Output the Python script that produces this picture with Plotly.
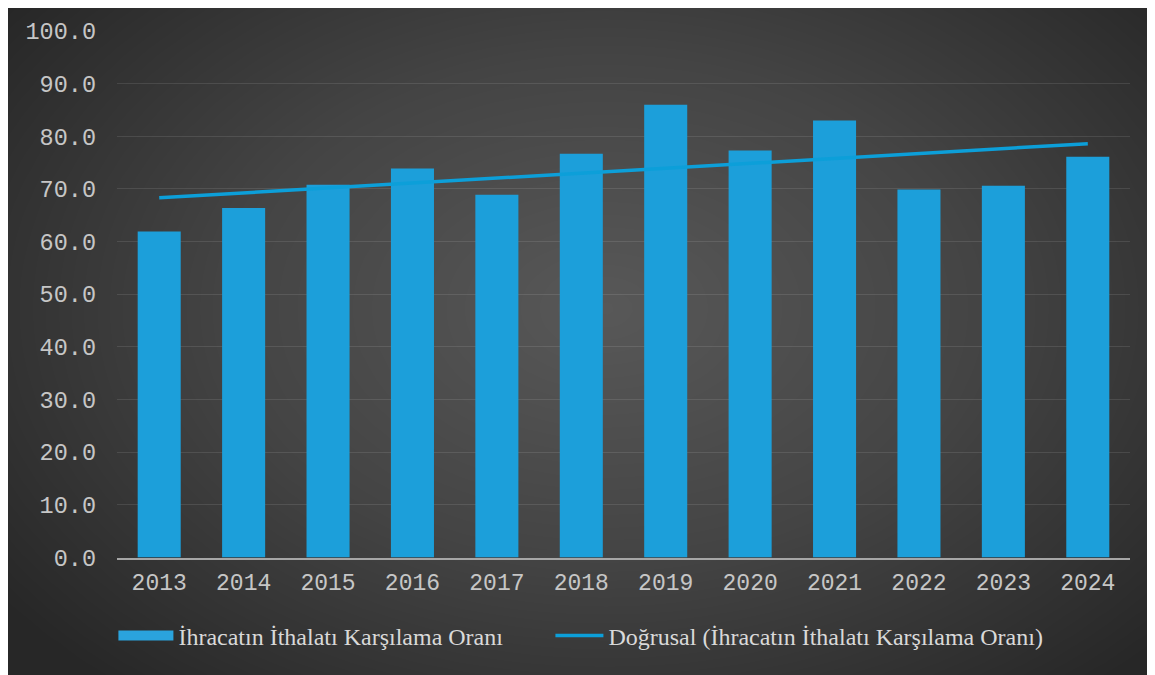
import numpy as np
import plotly.graph_objects as go

years = ["2013", "2014", "2015", "2016", "2017", "2018", "2019", "2020", "2021", "2022", "2023", "2024"]
ratio = [61.9, 66.4, 70.8, 73.9, 68.9, 76.7, 86.0, 77.3, 83.0, 69.9, 70.6, 76.1]
bar_name = "İhracatın İthalatı Karşılama Oranı"
trend_name = "Doğrusal (İhracatın İthalatı Karşılama Oranı)"

# linear trend (least squares) computed from the series
idx = np.arange(len(ratio))
slope, intercept = np.polyfit(idx, ratio, 1)
trend = list(slope * idx + intercept)

# figure is placed by the page at (8, 8); size it to end at the window edge
W, H = 1147, 667
OFF = 8

# radial background gradient (decoration)
nx, ny = 160, 100
gx = np.linspace(0, 1, nx)
gy = np.linspace(0, 1, ny)
X, Y = np.meshgrid(gx, gy)
D = np.sqrt(((X - 0.52) / 0.52) ** 2 + ((Y - 0.55) / 0.6) ** 2)
D = np.clip(D / 1.25, 0, 1)

fig = go.Figure()
fig.add_trace(go.Heatmap(
    x=gx, y=gy, z=D, xaxis="x", yaxis="y",
    colorscale=[[0, "#585858"], [0.5, "#444444"], [1, "#272727"]],
    zmin=0, zmax=1, zsmooth="best", showscale=False, hoverinfo="skip", showlegend=False,
))
fig.add_trace(go.Bar(
    x=years, y=ratio, name=bar_name, xaxis="x2", yaxis="y2",
    marker=dict(color="#1c9fda", line=dict(width=0)),
    showlegend=False, legendgroup="bars",
))
# legend swatch for the bars (wide rectangle like the original)
fig.add_trace(go.Scatter(
    x=[None], y=[None], name=bar_name, mode="lines", xaxis="x2", yaxis="y2",
    line=dict(color="#2aa3dd", width=14), legendgroup="bars", hoverinfo="skip",
    legend="legend",
))
fig.add_trace(go.Scatter(
    x=years, y=trend, name=trend_name, mode="lines", xaxis="x2", yaxis="y2",
    line=dict(color="#0c9fd9", width=3.5), legend="legend2",
))

mono = "Liberation Mono, Courier New, monospace"
serif = "Liberation Serif, Times New Roman, serif"
fig.update_layout(
    width=W, height=H,
    margin=dict(l=0, r=0, t=0, b=0, autoexpand=False),
    paper_bgcolor="#ffffff",
    plot_bgcolor="rgba(0,0,0,0)",
    bargap=0.49,
    showlegend=True,
    xaxis=dict(domain=[0, 1], range=[0, 1], visible=False, fixedrange=True, automargin=False),
    yaxis=dict(domain=[0, 1], range=[0, 1], visible=False, fixedrange=True, automargin=False),
    xaxis2=dict(
        domain=[(117 - OFF) / W, (1130 - OFF) / W], anchor="y2",
        type="category", range=[-0.5, 11.5], automargin=False,
        showgrid=False, showline=True, linecolor="#a6a6a6", linewidth=2,
        ticks="", ticklabelstandoff=3,
        tickfont=dict(family=mono, size=23, color="#c6c6c6"),
    ),
    yaxis2=dict(
        domain=[1 - (557.5 - OFF) / H, 1 - (31 - OFF) / H], anchor="x2",
        range=[0, 100], dtick=10, tickformat=".1f", automargin=False,
        showgrid=True, gridcolor="rgba(255,255,255,0.10)", gridwidth=1.3,
        zeroline=False, showline=False, ticks="", ticklabelstandoff=20,
        tickfont=dict(family=mono, size=23.5, color="#c6c6c6"),
    ),
    legend=dict(
        orientation="h", x=0.0919, xanchor="left", y=0.0585, yanchor="middle",
        bgcolor="rgba(0,0,0,0)",
        font=dict(family=serif, size=24, color="#d9d9d9"),
        itemwidth=55,
    ),
    legend2=dict(
        orientation="h", x=0.4729, xanchor="left", y=0.0585, yanchor="middle",
        bgcolor="rgba(0,0,0,0)",
        font=dict(family=serif, size=24, color="#d9d9d9"),
        itemwidth=48,
    ),
)

fig.write_html("out.html")
